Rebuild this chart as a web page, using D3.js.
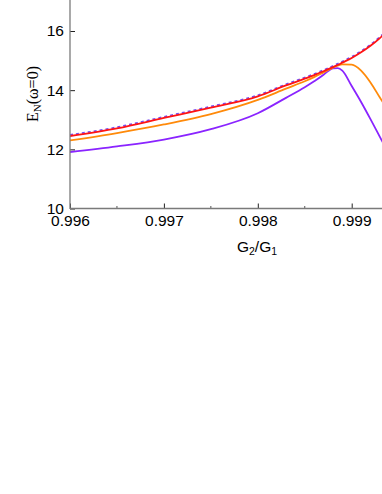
<!DOCTYPE html>
<html>
<head>
<meta charset="utf-8">
<script src="https://cdn.jsdelivr.net/npm/d3@7"></script>
<style>
body { margin: 0; background: #fff; }
svg { display: block; }
.tick text { font-family: "Liberation Sans", Arial, sans-serif; font-size: 15.5px; fill: #000; }
</style>
</head>
<body>
<div id="chart"></div>
<script>
// G2/G1 sample points
var ratio = [0.996, 0.9965, 0.997, 0.9975, 0.998, 0.9983, 0.9985, 0.9986, 0.9987, 0.99875, 0.9988, 0.99885, 0.9989, 0.999, 0.9991, 0.9992, 0.9993, 0.99935];
// EN(w=0) for each curve
var redVals    = [12.46, 12.72, 13.07, 13.42, 13.80, 14.17, 14.40, 14.52, 14.65, 14.72, 14.79, 14.86, 14.94, 15.10, 15.29, 15.51, 15.77, 15.92];
var orangeVals = [12.30, 12.55, 12.84, 13.19, 13.67, 14.05, 14.30, 14.44, 14.60, 14.68, 14.76, 14.83, 14.87, 14.86, 14.66, 14.26, 13.75, 13.50];
var purpleVals = [11.91, 12.10, 12.33, 12.68, 13.22, 13.74, 14.10, 14.30, 14.52, 14.65, 14.74, 14.745, 14.66, 14.14, 13.60, 13.02, 12.42, 12.12];
var xTicks = [0.996, 0.997, 0.998, 0.999];
var xMinor = [0.9965, 0.9975, 0.9985];
var yTicks = [10, 12, 14, 16];

var svgwidth = 382, svgheight = 494;
var x0 = 70, yBase = 208.5;

var svg = d3.select("#chart").append("svg").attr("width", svgwidth).attr("height", svgheight);

var xscale = d3.scaleLinear().domain([0.996, 0.999]).range([x0, 351.7]);
var yscale = d3.scaleLinear().domain([10, 16]).range([yBase, 31]);

svg.append("clipPath").attr("id", "clip").append("rect")
    .attr("x", x0).attr("y", 0).attr("width", svgwidth - x0).attr("height", yBase);

var plot = svg.append("g").attr("clip-path", "url(#clip)");

function lineFor(vals, dy) {
    return d3.line()
        .x((d, i) => xscale(ratio[i]))
        .y(d => yscale(d) + (dy || 0))
        .curve(d3.curveMonotoneX)(vals);
}

plot.append("path").attr("d", lineFor(purpleVals)).attr("fill", "none").attr("stroke", "#8a24ff").attr("stroke-width", 1.8);
plot.append("path").attr("d", lineFor(orangeVals)).attr("fill", "none").attr("stroke", "#ff8a0a").attr("stroke-width", 1.8);
plot.append("path").attr("d", lineFor(redVals, -0.8)).attr("fill", "none").attr("stroke", "#7a4cf0").attr("stroke-width", 1.8).attr("stroke-dasharray", "3,3");
plot.append("path").attr("d", lineFor(redVals, 0.3)).attr("fill", "none").attr("stroke", "#ff1414").attr("stroke-width", 1.8);

// axes
var axisleft = d3.axisLeft(yscale).tickValues(yTicks).tickFormat(d3.format("d")).tickSize(-5).tickPadding(6);
var gy = svg.append("g").attr("transform", `translate(${x0},0)`).call(axisleft);
gy.select(".domain").remove();
gy.selectAll(".tick line").attr("stroke", "#222");

var axisbottom = d3.axisBottom(xscale).tickValues(xTicks).tickFormat(d3.format(".3f")).tickSize(-5).tickPadding(6);
var gx = svg.append("g").attr("transform", `translate(0,${yBase})`).call(axisbottom);
gx.select(".domain").remove();
gx.selectAll(".tick line").attr("stroke", "#222");
gx.selectAll(".minor").data(xMinor).enter().append("line")
    .attr("x1", d => xscale(d)).attr("x2", d => xscale(d))
    .attr("y1", 0).attr("y2", -2.5).attr("stroke", "#555");

svg.append("line").attr("x1", x0).attr("x2", x0).attr("y1", 0).attr("y2", yBase + 0.5).attr("stroke", "#7a7a7a").attr("stroke-width", 1.3);
svg.append("line").attr("x1", x0).attr("x2", svgwidth).attr("y1", yBase).attr("y2", yBase).attr("stroke", "#7a7a7a").attr("stroke-width", 1.3);

// axis titles
var xt = svg.append("text").attr("x", 257).attr("y", 252).attr("text-anchor", "middle")
    .style("font-family", "Liberation Sans, Arial, sans-serif").style("font-size", "15.5px");
xt.append("tspan").text("G");
xt.append("tspan").attr("font-size", "10.5px").attr("dy", 3).text("2");
xt.append("tspan").attr("dy", -3).text("/G");
xt.append("tspan").attr("font-size", "10.5px").attr("dy", 3).text("1");

var yt = svg.append("text").attr("transform", "translate(38,94) rotate(-90)").attr("text-anchor", "middle")
    .style("font-family", "Liberation Serif, Times New Roman, serif").style("font-size", "16px");
yt.append("tspan").text("E");
yt.append("tspan").attr("font-size", "11px").attr("dy", 3).text("N");
yt.append("tspan").attr("dy", -3).text("(ω=0)");
</script>
</body>
</html>
